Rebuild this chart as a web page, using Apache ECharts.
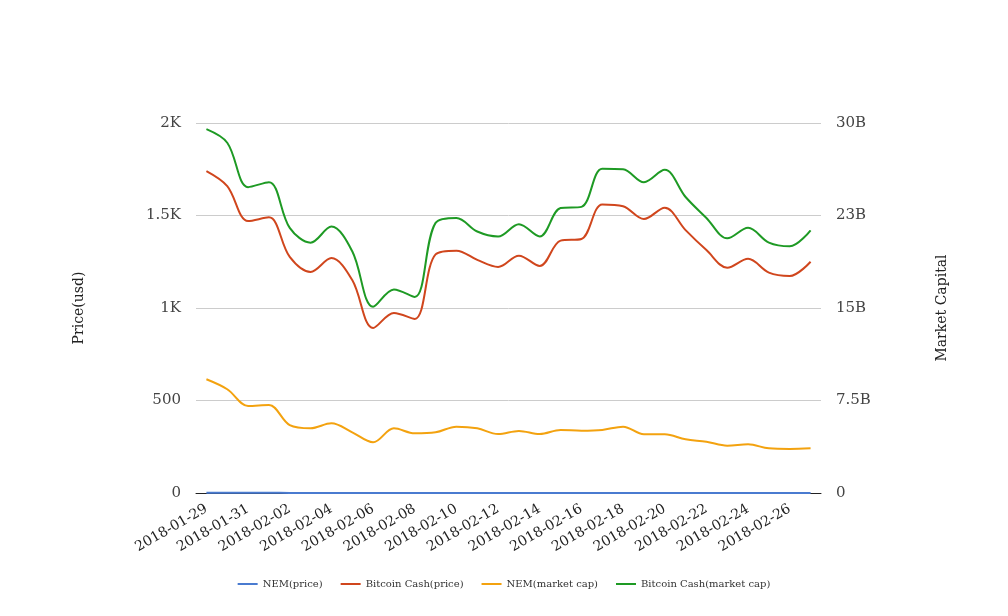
<!DOCTYPE html>
<html><head><meta charset="utf-8">
<script src="https://cdn.jsdelivr.net/npm/echarts@6/dist/echarts.min.js"></script>
<style>html,body{margin:0;padding:0;background:#fff}#c{width:1008px;height:616px}</style>
</head><body><div id="c"></div>
<script>
const dates = ['2018-01-29','2018-01-30','2018-01-31','2018-02-01','2018-02-02','2018-02-03','2018-02-04','2018-02-05','2018-02-06','2018-02-07','2018-02-08','2018-02-09','2018-02-10','2018-02-11','2018-02-12','2018-02-13','2018-02-14','2018-02-15','2018-02-16','2018-02-17','2018-02-18','2018-02-19','2018-02-20','2018-02-21','2018-02-22','2018-02-23','2018-02-24','2018-02-25','2018-02-26','2018-02-27'];
const nemPrice = [1.02,0.93,0.78,0.79,0.61,0.58,0.63,0.55,0.46,0.58,0.54,0.55,0.60,0.58,0.53,0.56,0.53,0.57,0.56,0.57,0.60,0.53,0.53,0.48,0.46,0.43,0.44,0.40,0.40,0.40];
const bchPrice = [1740,1659,1470,1490,1276,1195,1270,1151,892,973,941,1290,1310,1260,1222,1283,1227,1364,1373,1560,1550,1481,1542,1421,1313,1218,1266,1191,1173,1250];
const nemCap = [9.22,8.41,7.06,7.14,5.51,5.25,5.65,4.92,4.11,5.25,4.84,4.92,5.38,5.25,4.78,5.03,4.78,5.11,5.05,5.11,5.38,4.76,4.76,4.35,4.16,3.84,3.95,3.62,3.57,3.62];
const bchCap = [29.5,28.4,24.8,25.2,21.5,20.3,21.6,19.6,15.1,16.5,15.9,21.9,22.3,21.2,20.8,21.8,20.8,23.1,23.2,26.3,26.25,25.2,26.2,24.0,22.3,20.65,21.5,20.3,20.0,21.3];
const seriesNames = ['NEM(price)','Bitcoin Cash(price)','NEM(market cap)','Bitcoin Cash(market cap)'];
const colors = ['#4a7bd0','#d0461d','#f3a20f','#1e9a24'];

const font = 'DejaVu Serif';
const chart = echarts.init(document.getElementById('c'));
const mk = (name, data, axis, i) => ({
  name, type:'line', data, yAxisIndex: axis, smooth:0.35, showSymbol:false, symbol:'none',
  lineStyle:{width:2,color:colors[i]}, itemStyle:{color:colors[i]}
});
chart.setOption({
  animation:false,
  textStyle:{fontFamily:font},
  grid:{left:196,right:187,top:123,bottom:123,containLabel:false},
  legend:{bottom:22,left:'center',itemWidth:20,itemHeight:2,itemGap:18,
    icon:'rect',
    textStyle:{fontFamily:font,fontSize:10,color:'#333'},data:seriesNames},
  xAxis:{type:'category',data:dates,boundaryGap:true,
    axisLine:{lineStyle:{color:'#222'}},axisTick:{show:false},
    axisLabel:{interval:1,rotate:30,fontFamily:font,fontSize:14,color:'#222',margin:15}},
  yAxis:[
    {type:'value',min:0,max:2000,interval:500,name:'Price(usd)',nameLocation:'middle',nameGap:110,nameRotate:90,
     nameTextStyle:{fontFamily:font,fontSize:14,color:'#222'},
     axisLine:{show:false},axisTick:{show:false},
     splitLine:{lineStyle:{color:'#ccc'}},
     axisLabel:{fontFamily:font,fontSize:15,color:'#444',margin:15,formatter:v=>v>=1000?(v/1000)+'K':String(v)}},
    {type:'value',min:0,max:30,interval:7.5,name:'Market Capital',nameLocation:'middle',nameGap:114,nameRotate:90,
     nameTextStyle:{fontFamily:font,fontSize:14,color:'#222'},
     axisLine:{show:false},axisTick:{show:false},splitLine:{show:false},
     axisLabel:{fontFamily:font,fontSize:15,color:'#444',margin:15,formatter:v=>v===0?'0':Number(v.toPrecision(2))+'B'}}
  ],
  series:[mk(seriesNames[0],nemPrice,0,0),mk(seriesNames[1],bchPrice,0,1),mk(seriesNames[2],nemCap,1,2),mk(seriesNames[3],bchCap,1,3)]
});
</script></body></html>
